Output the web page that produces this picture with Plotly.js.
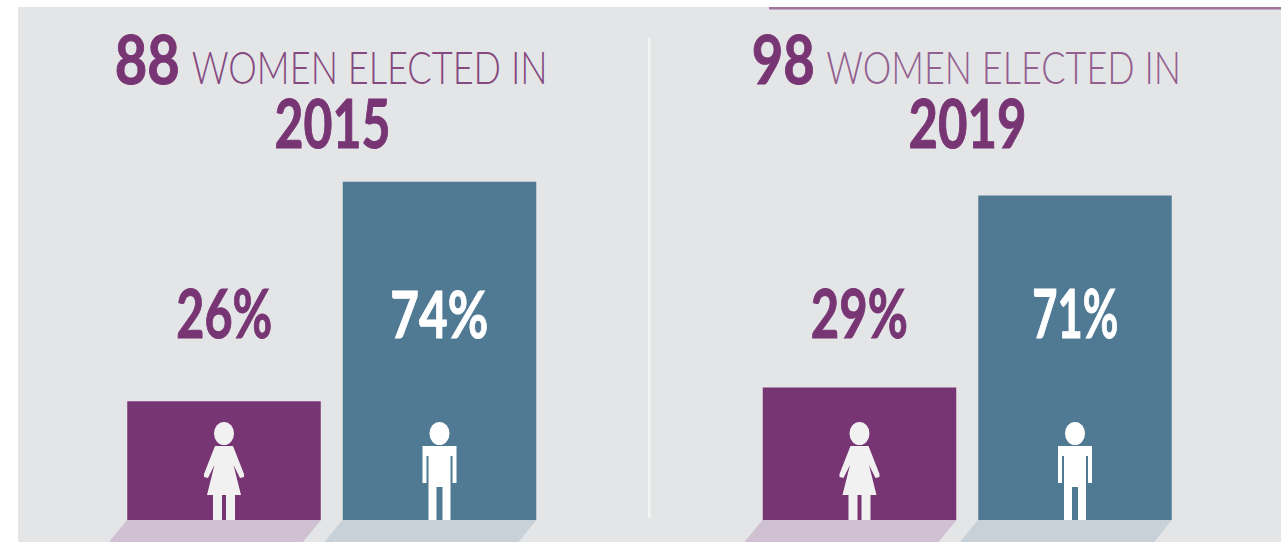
<!DOCTYPE html>
<html><head><meta charset="utf-8">
<script src="https://cdn.plot.ly/plotly-3.0.1.min.js"></script>
<style>html,body{margin:0;padding:0;background:#fff;overflow:hidden}</style>
</head><body><div id="chart" style="width:1286px;height:542px"></div>
<script>
const categories = ["Women", "Men"];
const years = ["2015", "2019"];
const womenElected = [88, 98];
const share2015 = [26, 74];
const share2019 = [29, 71];
const headline = "WOMEN ELECTED IN";

const W = 1286, H = 542, RIGHT = 1281, PURPLE = "#783574", TEAL = "#507a94", BG = "#e4e5e7";
const BASE = 520, PX_PER_PCT = 4.57;
const px = v => v / W, py = v => 1 - v / H;
const poly = pts => "M" + pts.map(p => px(p[0]).toFixed(5) + "," + py(p[1]).toFixed(5)).join("L") + "Z";
const pshape = (path, fill) => ({type: "path", xref: "paper", yref: "paper", path, fillcolor: fill, line: {width: 0}, layer: "above"});
const head = (c, fill) => ({type: "circle", xref: "paper", yref: "paper", x0: px(c - 10), x1: px(c + 10), y0: py(445), y1: py(422), fillcolor: fill, line: {width: 0}, layer: "above"});
function womanIcon(c) {
  const o = (x, y) => [c + x, y];
  return [head(c, "#f1f1f1"), pshape(poly([
    o(-9, 446), o(9, 446), o(20, 474), o(20, 477), o(16, 478), o(9.5, 465), o(17, 495),
    o(11, 495), o(11, 520), o(2, 520), o(2, 495), o(-2, 495), o(-2, 520), o(-11, 520), o(-11, 495),
    o(-17, 495), o(-9.5, 465), o(-16, 478), o(-20, 477), o(-20, 474)
  ]), "#f1f1f1")];
}
function manIcon(c) {
  const o = (x, y) => [c + x, y];
  return [head(c, "#ffffff"), pshape(poly([
    o(-17, 446), o(17, 446), o(17, 483), o(13, 483), o(13, 456), o(11, 456), o(11, 520),
    o(3, 520), o(3, 487), o(-3, 487), o(-3, 520), o(-11, 520), o(-11, 456), o(-13, 456),
    o(-13, 483), o(-17, 483)
  ]), "#ffffff")];
}
const shadow = (l, r, fill) => ({type: "path", xref: "paper", yref: "paper", layer: "below", fillcolor: fill, line: {width: 0},
  path: poly([[l, BASE], [r, BASE], [r - 18, H], [l - 18, H]])});

const panels = [
  {vals: share2015, xa: "x", ya: "y", dom: [116.25, 547.25], c: [224, 439.5],
   num: [147.5, 65], head: [369, 356], yr: [332, 116], pct: [96, 98], headColor: "#84497f"},
  {vals: share2019, xa: "x2", ya: "y2", dom: [751.75, 1182.75], c: [859.5, 1075],
   num: [783.5, 63], head: [1003.5, 355], yr: [967, 118], pct: [97, 86], headColor: "#925f8e"}
];
const traces = panels.map(p => ({
  type: "bar", x: categories, y: p.vals, xaxis: p.xa, yaxis: p.ya,
  marker: {color: [PURPLE, TEAL], line: {width: 0}}, hoverinfo: "skip", showlegend: false
}));

const shapes = [
  {type: "rect", xref: "paper", yref: "paper", x0: px(18), x1: px(RIGHT), y0: 0, y1: py(7), fillcolor: BG, line: {width: 0}, layer: "below"},
  {type: "rect", xref: "paper", yref: "paper", x0: px(769), x1: px(RIGHT), y0: py(9.5), y1: py(7), fillcolor: "#a274a0", line: {width: 0}, layer: "below"},
  {type: "rect", xref: "paper", yref: "paper", x0: px(648), x1: px(650.5), y0: py(518), y1: py(38), fillcolor: "#f3f4f4", line: {width: 0}, layer: "below"}
];
const annotations = [];
const fitWidths = [];
const heavy = [];
const ann = (text, x, y, size, color, family, width, isHeavy) => {
  annotations.push({
    text, xref: "paper", yref: "paper", x: px(x), y: py(y), xanchor: "center", yanchor: "middle",
    showarrow: false, font: {size, color, family}, borderpad: 0
  });
  fitWidths.push(width);
  heavy.push(isHeavy ? color : null);
};
panels.forEach((p, i) => {
  shapes.push(shadow(p.c[0] - 97, p.c[0] + 97, "#cfc1d1"), shadow(p.c[1] - 97, p.c[1] + 97, "#c8d1d8"));
  shapes.push(...womanIcon(p.c[0]), ...manIcon(p.c[1]));
  ann("<b>" + womenElected[i] + "</b>", p.num[0], 59, 66, PURPLE, "Lato", p.num[1], true);
  ann(headline, p.head[0], 67, 45, p.headColor, "Lato Light, Lato", p.head[1], false);
  ann("<b>" + years[i] + "</b>", p.yr[0], 122.5, 66, PURPLE, "Lato", p.yr[1], true);
  ann("<b>" + p.vals[0] + "%</b>", p.c[0], 312.5, 66, PURPLE, "Lato", p.pct[0], true);
  ann("<b>" + p.vals[1] + "%</b>", p.c[1], 312.5, 66, "#ffffff", "Lato", p.pct[1], true);
});

const yRange = [0, BASE / PX_PER_PCT];
const yDom = [(H - BASE) / H, 1];
const ax = {showgrid: false, zeroline: false, showticklabels: false, showline: false, ticks: ""};
const layout = {
  width: W, height: H, margin: {l: 0, r: 0, t: 0, b: 0},
  paper_bgcolor: "#ffffff", plot_bgcolor: "rgba(0,0,0,0)", bargap: 22 / 215.5, showlegend: false,
  xaxis: {...ax, type: "category", domain: [panels[0].dom[0] / W, panels[0].dom[1] / W]},
  xaxis2: {...ax, type: "category", domain: [panels[1].dom[0] / W, panels[1].dom[1] / W]},
  yaxis: {...ax, range: yRange, domain: yDom},
  yaxis2: {...ax, range: yRange, domain: yDom, anchor: "x2"},
  shapes, annotations
};
Plotly.newPlot("chart", traces, layout, {displayModeBar: false, staticPlot: true}).then(() => {
  // The reference lettering is condensed and heavy: narrow each real text element to its measured width.
  document.querySelectorAll("#chart .annotation-text").forEach((t, i) => {
    const b = t.getBBox(), cx = b.x + b.width / 2, s = fitWidths[i] / b.width;
    t.setAttribute("transform", `translate(${cx},0) scale(${s},1) translate(${-cx},0)`);
    if (heavy[i]) { t.style.stroke = heavy[i]; t.style.strokeWidth = "1px"; }
  });
});
</script></body></html>
